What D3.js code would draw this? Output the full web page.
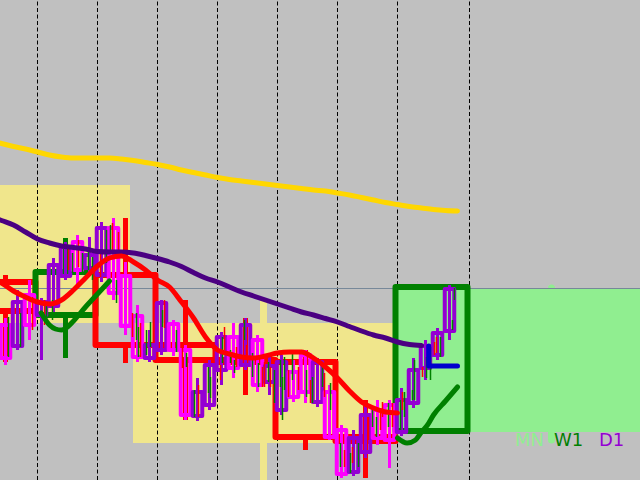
<!DOCTYPE html>
<html><head><meta charset="utf-8">
<script src="https://cdn.jsdelivr.net/npm/d3@7"></script>
<style>html,body{margin:0;padding:0;background:#c0c0c0;overflow:hidden}svg{display:block}</style>
</head><body><svg id="c" width="640" height="480"></svg>
<script>
// ---------- DATA (time in days, prices) ----------
// Monthly candles: [startDay, endDay, open, high, low, close]
const monthly = [
  [-22, 8, 1.0815, 1.0830, 1.0650, 1.0677],
  [8, 30, 1.0677, 1.0698, 1.0500, 1.0557],
  [30, 56, 1.0568, 1.0712, 1.0560, 1.0711]
];
// Weekly candles: [startDay, endDay, open, high, low, close]
const weekly = [
  [-5, 0, 1.0718, 1.0725, 1.0638, 1.0689],
  [0, 5, 1.0685, 1.0762, 1.0642, 1.0728],
  [5, 10, 1.0725, 1.0782, 1.0637, 1.0655],
  [10, 15, 1.0655, 1.0700, 1.0580, 1.0640],
  [15, 20, 1.0640, 1.0682, 1.0605, 1.0638],
  [20, 25, 1.0638, 1.0650, 1.0550, 1.0563],
  [25, 30, 1.0563, 1.0600, 1.0522, 1.0559],
  [30, 36, 1.0569, 1.0713, 1.0567, 1.0713]
];
// Daily candles: [day, open, high, low, close]
const daily = [
  [-4, 1.0642, 1.0665, 1.0638, 1.0662],
  [-3, 1.0675, 1.0682, 1.0635, 1.0642],
  [-2, 1.0654, 1.0710, 1.0650, 1.0698],
  [-1, 1.0705, 1.0720, 1.0660, 1.0675],
  [0, 1.0685, 1.0702, 1.0640, 1.0698],
  [1, 1.0694, 1.0742, 1.0688, 1.0735],
  [2, 1.0724, 1.0758, 1.0720, 1.0753],
  [3, 1.0758, 1.0765, 1.0715, 1.0730],
  [4, 1.0732, 1.0763, 1.0725, 1.0745],
  [5, 1.0725, 1.0778, 1.0718, 1.0772],
  [6, 1.0772, 1.0782, 1.0700, 1.0707],
  [7, 1.0724, 1.0738, 1.0665, 1.0674],
  [8, 1.0684, 1.0695, 1.0638, 1.0643],
  [9, 1.0642, 1.0670, 1.0638, 1.0655],
  [10, 1.0650, 1.0700, 1.0645, 1.0697],
  [11, 1.0676, 1.0680, 1.0644, 1.0650],
  [12, 1.0650, 1.0655, 1.0580, 1.0585],
  [13, 1.0584, 1.0622, 1.0579, 1.0608],
  [14, 1.0595, 1.0640, 1.0590, 1.0635],
  [15, 1.0630, 1.0668, 1.0615, 1.0663],
  [16, 1.0663, 1.0677, 1.0622, 1.0632],
  [17, 1.0635, 1.0682, 1.0630, 1.0675],
  [18, 1.0660, 1.0665, 1.0608, 1.0615],
  [19, 1.0618, 1.0645, 1.0605, 1.0634],
  [20, 1.0590, 1.0645, 1.0585, 1.0638],
  [21, 1.0628, 1.0640, 1.0598, 1.0603],
  [22, 1.0645, 1.0650, 1.0597, 1.0608],
  [23, 1.0598, 1.0642, 1.0593, 1.0638],
  [24, 1.0608, 1.0615, 1.0560, 1.0563],
  [25, 1.0570, 1.0575, 1.0522, 1.0526],
  [26, 1.0528, 1.0570, 1.0524, 1.0562],
  [27, 1.0548, 1.0595, 1.0542, 1.0585],
  [28, 1.0590, 1.0600, 1.0555, 1.0562],
  [29, 1.0595, 1.0600, 1.0532, 1.0560],
  [30, 1.0568, 1.0612, 1.0564, 1.0600],
  [31, 1.0597, 1.0642, 1.0592, 1.0630],
  [32, 1.0632, 1.0660, 1.0620, 1.0654],
  [33, 1.0645, 1.0672, 1.0640, 1.0667],
  [34, 1.0669, 1.0715, 1.0660, 1.0711]
];
// Lower-timeframe bars (H4 index, 6 per day): [index, high, low, up]
const h4Bars = [
  [-14,1.0683,1.0643,1],[-8,1.0687,1.0653,1],[-2,1.0703,1.0670,0],[4,1.0700,1.0675,0],[5,1.0697,1.0680,1],
  [8,1.0700,1.0680,1],[16,1.0752,1.0730,0],[18,1.0747,1.0727,1],[21,1.0760,1.0733,0],[23,1.0747,1.0727,1],
  [26,1.0753,1.0730,1],[28,1.0743,1.0720,1],[32,1.0750,1.0723,0],[35,1.0770,1.0737,1],[37,1.0775,1.0747,1],
  [38,1.0777,1.0750,0],[40,1.0720,1.0697,1],[41,1.0768,1.0747,0],[48,1.0687,1.0663,0],[50,1.0687,1.0660,1],
  [51,1.0673,1.0643,1],[52,1.0677,1.0643,0],[55,1.0670,1.0645,1],[57,1.0678,1.0653,1],[63,1.0690,1.0673,1],
  [64,1.0700,1.0672,0],[70,1.0670,1.0648,1],[73,1.0652,1.0632,0],[75,1.0647,1.0633,1],[79,1.0610,1.0583,1],
  [81,1.0615,1.0583,0],[86,1.0633,1.0607,1],[87,1.0623,1.0602,1],[92,1.0635,1.0620,0],[93,1.0663,1.0637,1],
  [94,1.0673,1.0650,0],[97,1.0650,1.0637,1],[99,1.0640,1.0627,1],[100,1.0653,1.0633,0],[104,1.0680,1.0660,1],
  [105,1.0655,1.0640,0],[108,1.0647,1.0623,1],[111,1.0637,1.0613,1],[113,1.0633,1.0613,0],[114,1.0638,1.0613,0],
  [116,1.0638,1.0618,1],[117,1.0633,1.0613,0],[119,1.0630,1.0597,1],[122,1.0640,1.0613,1],[123,1.0623,1.0580,1],
  [124,1.0643,1.0610,1],[126,1.0630,1.0603,0],[128,1.0647,1.0620,1],[131,1.0633,1.0610,0],[135,1.0630,1.0603,1],
  [137,1.0620,1.0597,0],[138,1.0623,1.0597,1],[143,1.0637,1.0613,1],[144,1.0627,1.0603,0],[147,1.0617,1.0590,1],
  [152,1.0557,1.0533,1],[154,1.0550,1.0533,0],[157,1.0547,1.0527,1],[158,1.0553,1.0537,0],[161,1.0557,1.0533,1],
  [166,1.0583,1.0560,0],[168,1.0590,1.0573,1],[170,1.0583,1.0563,1],[172,1.0590,1.0570,0],[173,1.0598,1.0583,0],
  [176,1.0597,1.0573,1],[178,1.0597,1.0573,0],[182,1.0600,1.0570,1],[183,1.0608,1.0590,0],[184,1.0608,1.0583,1],
  [188,1.0610,1.0600,1],[189,1.0640,1.0600,1],[193,1.0633,1.0623,0],[195,1.0643,1.0622,1],[197,1.0653,1.0620,1],
  [199,1.0658,1.0645,0],[200,1.0663,1.0647,0],[202,1.0663,1.0643,1],[208,1.0680,1.0670,1],[209,1.0712,1.0700,1]
];
// Moving averages, one value per day starting at the given day
const goldStart = -4;
const goldMA = [1.0860,1.08565,1.08535,1.0851,1.0848,1.0845,1.0843,1.0842,1.0842,1.0842,1.0842,1.0841,1.08395,1.08375,1.08355,1.0833,1.0830,1.08275,1.0825,1.08225,1.08205,1.0819,1.08175,1.0816,1.08145,1.0813,1.08115,1.0810,1.0809,1.0807,1.0805,1.08025,1.0800,1.07975,1.07955,1.07935,1.0792,1.07905,1.07895,1.0789];
const indigoStart = -4;
const indigoMA = [1.0784,1.07795,1.0775,1.0768,1.0761,1.0757,1.0754,1.07525,1.0751,1.07485,1.0748,1.0748,1.0747,1.07445,1.07415,1.0738,1.07335,1.07275,1.0722,1.0718,1.0713,1.0708,1.0704,1.0700,1.0696,1.0692,1.0688,1.0685,1.06815,1.0678,1.06735,1.0669,1.0665,1.0662,1.0658,1.06555,1.06545];
const redStart = -4;
const redMA = [1.0722,1.0717,1.0709,1.0703,1.0698,1.0696,1.0700,1.0710,1.0722,1.0734,1.0742,1.0744,1.0738,1.0730,1.0720,1.0713,1.0698,1.0682,1.0663,1.0650,1.0646,1.0643,1.0642,1.0644,1.0647,1.0648,1.0648,1.0642,1.0633,1.0622,1.0609,1.0598,1.0592,1.0588,1.0587];
const greenMA = [[0.3,1.0687],[1,1.0675],[1.5,1.0671],[2,1.0670],[2.5,1.0673],[3,1.0679],[4,1.0693],[5,1.0706],[6,1.0719],null,
  [30,1.0562],[30.8,1.0557],[31.5,1.0560],[32,1.0568],[32.5,1.0575],[33,1.0585],[34,1.0599],[35,1.0613]];
const blueMA = [[32.6,1.0654],[32.6,1.0634],[35,1.0634]];
const separators = [0,5,10,15,20,25,30,36];
const bidPrice = 1.0711;
const legendLabels = ["MN","W1","D1"];
const legendColors = ["#90ee90","#008000","#9400d3"];

// ---------- DRAW ----------
const svg = d3.select('#c');
const x = d3.scaleLinear().domain([0,36]).range([35.5,467.5]);
const y = d3.scaleLinear().domain([1.052,1.100]).range([480,0]);
const maOff = 1/6;

svg.append('rect').attr('width',640).attr('height',480).attr('fill','#c0c0c0');

// Monthly (filled background)
const gM = svg.append('g');
monthly.forEach(([s,e,o,h,l,c])=>{
  const col = c>o ? '#90ee90' : '#f0e68c';
  const xm = (x(s)+x(e))/2;
  gM.append('line').attr('x1',xm).attr('x2',xm).attr('y1',y(h)).attr('y2',y(l))
    .attr('stroke',col).attr('stroke-width',7).attr('stroke-linecap','round');
  gM.append('rect').attr('x',x(s)+1.5).attr('width',x(e)-x(s)-3)
    .attr('y',y(Math.max(o,c))).attr('height',Math.abs(y(o)-y(c))).attr('fill',col);
});

// Period separators
svg.append('g').selectAll('line').data(separators).join('line')
  .attr('x1',d=>x(d)+2).attr('x2',d=>x(d)+2).attr('y1',0).attr('y2',480)
  .attr('stroke','#000').attr('stroke-width',1).attr('stroke-dasharray','4,2.5').attr('stroke-dashoffset',-1.5);

// Bid line
const by = Math.floor(y(bidPrice))-0.5;
svg.append('line').attr('x1',0).attr('x2',640).attr('y1',by).attr('y2',by)
  .attr('stroke','#778899').attr('stroke-width',1);

// Weekly boxes
const gW = svg.append('g');
weekly.forEach(([s,e,o,h,l,c])=>{
  const col = c>o ? '#008000' : '#ff0000';
  const xm = (x(s)+x(e))/2;
  const top = y(Math.max(o,c)), bot = y(Math.min(o,c));
  gW.append('line').attr('x1',xm).attr('x2',xm).attr('y1',y(h)).attr('y2',top)
    .attr('stroke',col).attr('stroke-width',5);
  gW.append('line').attr('x1',xm).attr('x2',xm).attr('y1',bot).attr('y2',y(l))
    .attr('stroke',col).attr('stroke-width',5);
  gW.append('rect').attr('x',x(s)).attr('width',x(e)-x(s)).attr('y',top).attr('height',Math.max(0.5,bot-top))
    .attr('fill','none').attr('stroke',col).attr('stroke-width',6).attr('stroke-linejoin','round');
});

// Daily boxes
const gD = svg.append('g');
daily.forEach(([d,o,h,l,c])=>{
  const col = c>o ? '#9400d3' : '#ff00ff';
  const xm = x(d+0.5);
  const top = y(Math.max(o,c)), bot = y(Math.min(o,c));
  gD.append('line').attr('x1',xm).attr('x2',xm).attr('y1',y(h)).attr('y2',y(l))
    .attr('stroke',col).attr('stroke-width',3);
  gD.append('rect').attr('x',x(d)+1.25).attr('width',x(d+1)-x(d)-2.5).attr('y',top).attr('height',Math.max(0.5,bot-top))
    .attr('fill','none').attr('stroke',col).attr('stroke-width',4).attr('stroke-linejoin','round');
});

// Lower timeframe bars
svg.append('g').selectAll('line').data(h4Bars).join('line')
  .attr('x1',d=>x(d[0]/6)+1).attr('x2',d=>x(d[0]/6)+1)
  .attr('y1',d=>y(d[1])).attr('y2',d=>y(d[2]))
  .attr('stroke',d=>d[3]?'#008000':'#ff0000').attr('stroke-width',1.5);

// Moving averages
const toPts = (start, arr) => arr.map((v,i)=>[start+i, v]);
const lineGen = d3.line().defined(d=>d!==null).x(d=>x(d[0]+maOff)).y(d=>y(d[1])).curve(d3.curveMonotoneX);
const lineLin = d3.line().x(d=>x(d[0]+maOff)).y(d=>y(d[1]));
const maStyle = (p,col)=>p.attr('fill','none').attr('stroke',col).attr('stroke-width',5)
  .attr('stroke-linecap','round').attr('stroke-linejoin','round');
maStyle(svg.append('path').attr('d',lineGen(toPts(goldStart,goldMA))),'#ffd700');
maStyle(svg.append('path').attr('d',lineGen(toPts(indigoStart,indigoMA))),'#4b0082');
maStyle(svg.append('path').attr('d',lineGen(toPts(redStart,redMA))),'#ff0000');
maStyle(svg.append('path').attr('d',lineGen(greenMA)),'#008000');
maStyle(svg.append('path').attr('d',lineLin(blueMA)),'#0000cd');

// Legend
const lx = [515,554,599];
svg.append('g').selectAll('text').data(legendLabels).join('text')
  .attr('x',(d,i)=>lx[i]).attr('y',446)
  .attr('fill',(d,i)=>legendColors[i])
  .attr('font-family','DejaVu Sans, sans-serif').attr('font-size',18)
  .text(d=>d);
</script></body></html>
